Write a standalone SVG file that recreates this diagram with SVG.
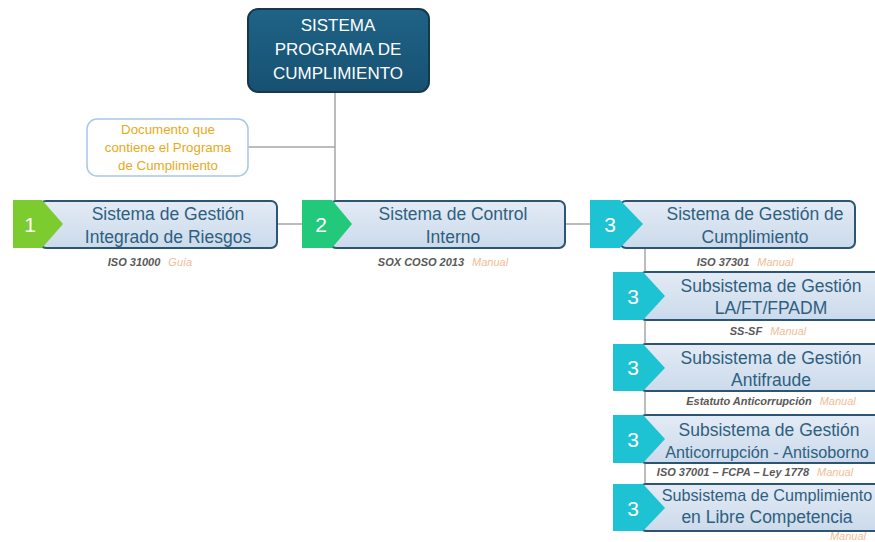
<svg xmlns="http://www.w3.org/2000/svg" width="875" height="542" viewBox="0 0 875 542">
<defs>
<linearGradient id="boxg" x1="0" y1="0" x2="0" y2="1"><stop offset="0" stop-color="#e3ebf5"/><stop offset="1" stop-color="#cbdaeb"/></linearGradient>
<linearGradient id="topg" x1="0" y1="0" x2="0" y2="1"><stop offset="0" stop-color="#1f6386"/><stop offset="1" stop-color="#175172"/></linearGradient>
<style>
.con{stroke:#a6a6a6;stroke-width:1.5;fill:none}
.box{fill:url(#boxg);stroke:#2b5572;stroke-width:2}
.t{font-family:"Liberation Sans",Arial,sans-serif;font-size:17.5px;fill:#2f5f80;text-anchor:middle}
.ts{font-size:16.2px}
.num{font-family:"Liberation Sans",Arial,sans-serif;font-size:21px;fill:#ffffff;text-anchor:middle}
.sub{font-family:"Liberation Sans",Arial,sans-serif;font-size:11px;font-style:italic;text-anchor:middle}
.iso{font-weight:bold;fill:#595959}
.man{fill:#f2bc96}
.top{font-family:"Liberation Sans",Arial,sans-serif;font-size:17px;fill:#ffffff;text-anchor:middle}
.doc{font-family:"Liberation Sans",Arial,sans-serif;font-size:13.3px;fill:#e8a91a;text-anchor:middle}
</style>
</defs>
<rect width="875" height="542" fill="#ffffff"/>
<g id="connectors">
<line class="con" x1="335" y1="92" x2="335" y2="201"/>
<line class="con" x1="248" y1="147" x2="335" y2="147"/>
<line class="con" x1="278" y1="224" x2="302" y2="224"/>
<line class="con" x1="566" y1="224" x2="590" y2="224"/>
<line class="con" x1="645" y1="248" x2="645" y2="510"/>
</g>
<g id="top">
<rect x="248" y="9" width="181" height="83" rx="10" fill="url(#topg)" stroke="#17384b" stroke-width="2"/>
<text class="top" x="338" y="31">SISTEMA</text>
<text class="top" x="338" y="55">PROGRAMA DE</text>
<text class="top" x="338" y="79">CUMPLIMIENTO</text>
</g>
<g id="doc">
<rect x="87" y="119" width="161" height="57" rx="10" fill="#ffffff" stroke="#a8c8e6" stroke-width="1.5"/>
<text class="doc" x="168" y="134">Documento que</text>
<text class="doc" x="168" y="152">contiene el Programa</text>
<text class="doc" x="168" y="170">de Cumplimiento</text>
</g>
<g id="node1">
<rect class="box" x="40" y="201" width="237" height="47" rx="6"/>
<polygon points="13,200 42,200 63,224 42,248 13,248" fill="#7ccb2f"/>
<text class="num" x="30" y="232">1</text>
<text class="t" x="168" y="220">Sistema de Gestión</text>
<text class="t" x="168" y="243">Integrado de Riesgos</text>
<text class="sub" x="150" y="266"><tspan class="iso">ISO 31000</tspan><tspan class="man" dx="8">Guía</tspan></text>
</g>
<g id="node2">
<rect class="box" x="330" y="201" width="235" height="47" rx="6"/>
<polygon points="302,200 332,200 352,224 332,248 302,248" fill="#23c97a"/>
<text class="num" x="321" y="232">2</text>
<text class="t" x="453" y="220">Sistema de Control</text>
<text class="t" x="453" y="243">Interno</text>
<text class="sub" x="443" y="266"><tspan class="iso">SOX COSO 2013</tspan><tspan class="man" dx="8">Manual</tspan></text>
</g>
<g id="node3">
<rect class="box" x="620" y="201" width="235" height="47" rx="6"/>
<polygon points="590,200 620,200 643,224 620,248 590,248" fill="#1dc3d2"/>
<text class="num" x="610" y="232">3</text>
<text class="t" x="755" y="220">Sistema de Gestión de</text>
<text class="t" x="755" y="243">Cumplimiento</text>
<text class="sub" x="745" y="266"><tspan class="iso">ISO 37301</tspan><tspan class="man" dx="8">Manual</tspan></text>
</g>
<g id="sub1">
<rect class="box" x="640" y="272" width="260" height="48" rx="6"/>
<polygon points="613,272 643,272 665,296 643,320 613,320" fill="#1dc3d2"/>
<text class="num" x="633" y="304">3</text>
<text class="t" x="771" y="292">Subsistema de Gestión</text>
<text class="t" x="771" y="314">LA/FT/FPADM</text>
<text class="sub" x="768" y="335"><tspan class="iso">SS-SF</tspan><tspan class="man" dx="8">Manual</tspan></text>
</g>
<g id="sub2">
<rect class="box" x="640" y="344" width="260" height="47" rx="6"/>
<polygon points="613,344 643,344 665,368 643,391 613,391" fill="#1dc3d2"/>
<text class="num" x="633" y="375">3</text>
<text class="t" x="771" y="364">Subsistema de Gestión</text>
<text class="t" x="771" y="386">Antifraude</text>
<text class="sub" x="771" y="405"><tspan class="iso">Estatuto Anticorrupción</tspan><tspan class="man" dx="8">Manual</tspan></text>
</g>
<g id="sub3">
<rect class="box" x="640" y="415" width="260" height="48" rx="6"/>
<polygon points="613,415 643,415 665,439 643,463 613,463" fill="#1dc3d2"/>
<text class="num" x="633" y="447">3</text>
<text class="t" x="769" y="436">Subsistema de Gestión</text>
<text class="t ts" x="767" y="458">Anticorrupción - Antisoborno</text>
<text class="sub" x="755" y="476"><tspan class="iso">ISO 37001 – FCPA – Ley 1778</tspan><tspan class="man" dx="8">Manual</tspan></text>
</g>
<g id="sub4">
<rect class="box" x="640" y="484" width="260" height="47" rx="6"/>
<polygon points="613,484 643,484 665,508 643,531 613,531" fill="#1dc3d2"/>
<text class="num" x="633" y="516">3</text>
<text class="t ts" x="767" y="501">Subsistema de Cumplimiento</text>
<text class="t" x="767" y="523">en Libre Competencia</text>
<text class="sub" x="848" y="540"><tspan class="man">Manual</tspan></text>
</g>
</svg>
